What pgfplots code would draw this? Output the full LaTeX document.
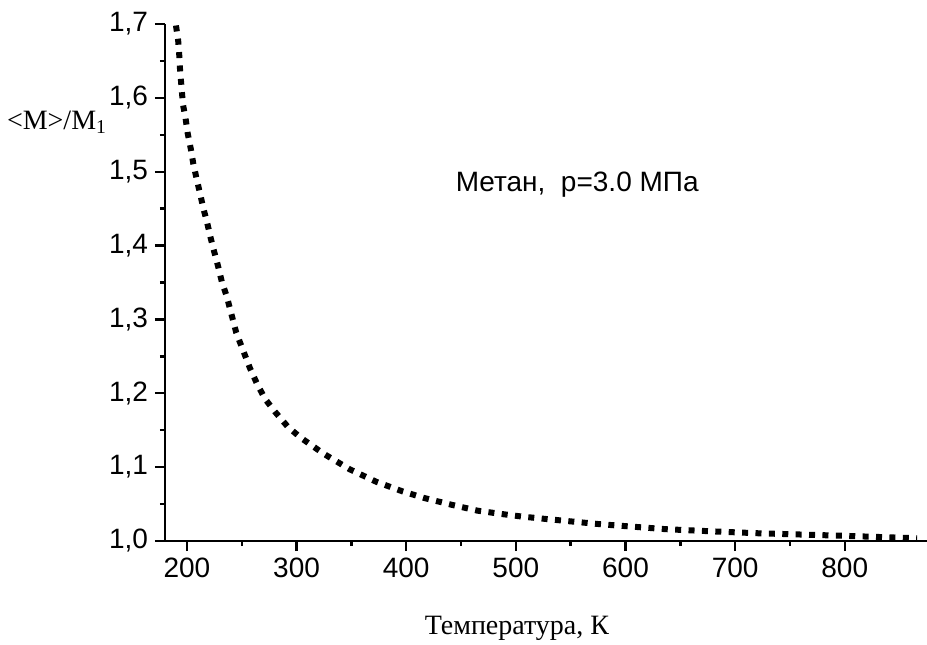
\documentclass[border=0pt]{standalone}
\usepackage{fontspec}
\setmainfont{Liberation Sans}
\newfontfamily\serif{Liberation Serif}
\usepackage{pgfplots}
\pgfplotsset{compat=1.18}

\begin{document}
\begin{tikzpicture}
\begin{axis}[
    scale only axis,
    width=381pt, height=258.5pt,
    xmin=180, xmax=875, ymin=1.0, ymax=1.7,
    axis lines*=left,
    axis line style={line width=1.2pt},
    every tick/.style={line width=1.2pt, black},
    tick align=outside,
    major tick length=5pt, minor tick length=2.5pt,
    xtick={200,300,...,800},
    ytick={1.0,1.1,...,1.71},
    minor x tick num=1, minor y tick num=1,
    tick label style={font=\fontsize{14}{16}\selectfont},
    /pgf/number format/assume math mode=true,
    yticklabel style={/pgf/number format/.cd, use comma, fixed, fixed zerofill, precision=1},
    xticklabel style={/pgf/number format/.cd, fixed, 1000 sep={}},
    clip=false,
]
  % <M>/M1 vs. temperature, methane at 3.0 MPa
  \addplot[black, line width=3pt, line cap=butt, dash pattern=on 3pt off 3.7pt] coordinates {
    (190,1.698)(192,1.678)(193,1.658)(193.7,1.639)(195.2,1.612)(196.4,1.591)
    (198.8,1.572)(200.7,1.552)(203.4,1.532)(205.8,1.511)(208.9,1.490)(211.9,1.471)
    (214.9,1.451)(218.6,1.430)(221.7,1.410)(225,1.391)(228.6,1.371)(232,1.350)
    (236.2,1.332)(245,1.282)(257.5,1.234)(263.6,1.214)(271,1.193)(280.3,1.175)
    (292.4,1.154)(304.6,1.139)(324.9,1.118)(348.6,1.097)(373,1.080)(397,1.067)
    (417,1.058)(441.6,1.049)(465.3,1.041)(490,1.036)(506,1.033)(540,1.028)
    (578,1.0226)(637,1.016)(680,1.013)(720.6,1.0105)(800,1.007)(866,1.0037)
  };
  \node[font=\fontsize{14}{16}\selectfont] at (axis cs:556,1.482) {Метан,\ \ p=3.0 МПа};
  \node[font=\serif\fontsize{14}{16}\selectfont, anchor=center]
    at (rel axis cs:0,0.81) [xshift=-54pt] {<M>/M\textsubscript{1}};
  \node[font=\serif\fontsize{14}{16}\selectfont] at (axis cs:501,1.0) [yshift=-43.5pt] {Температура, К};
\end{axis}
\pgfresetboundingbox
\path (-82.5pt,-51.5pt) rectangle (381pt,270.5pt);
\end{tikzpicture}
\end{document}
